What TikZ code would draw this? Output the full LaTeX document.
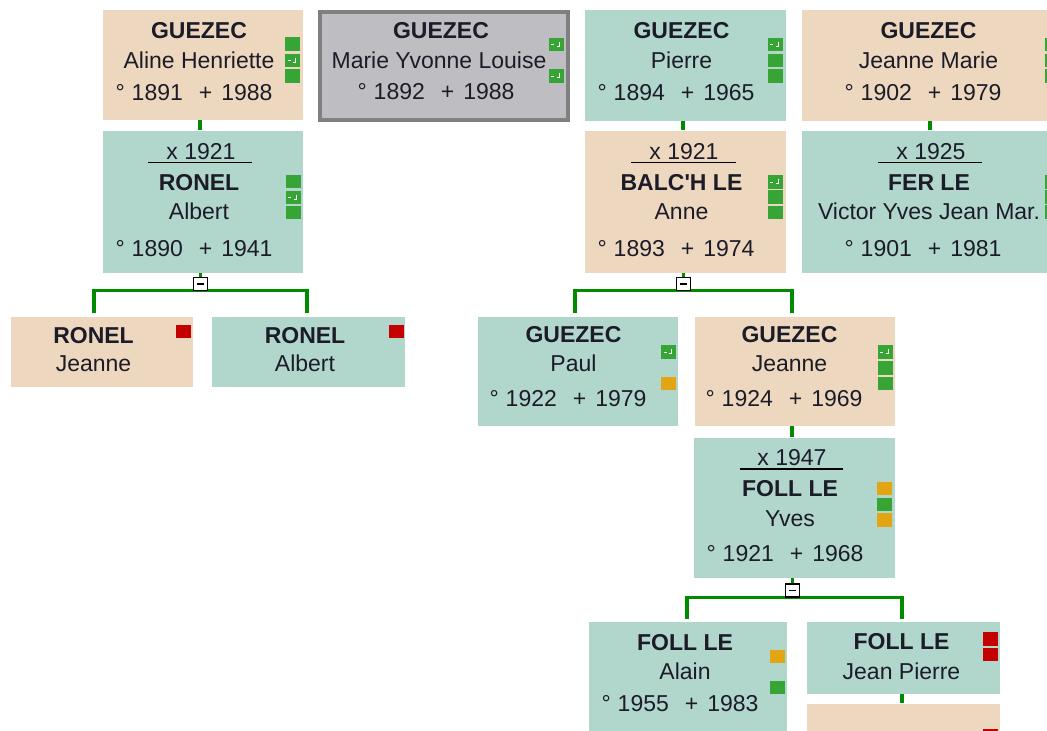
\documentclass[tikz,border=0pt]{standalone}
\usepackage{fontspec}
\setmainfont{Liberation Sans}[Ligatures=TeXOff]
\usetikzlibrary{calc}
\definecolor{cpeach}{HTML}{EDD7BF}
\definecolor{cteal}{HTML}{B1D6CC}
\definecolor{cgray}{HTML}{BEBEC2}
\definecolor{cgrayb}{HTML}{808080}
\definecolor{cline}{HTML}{008A00}
\definecolor{mgreen}{HTML}{36A536}
\definecolor{morange}{HTML}{E2A514}
\definecolor{mred}{HTML}{C40000}
\definecolor{ink}{HTML}{1C1C28}
\tikzset{
  card/.style={draw=white, line width=0.8pt, inner sep=0pt, outer sep=0pt, anchor=north west},
  txt/.style={anchor=base, inner sep=0pt, text=ink, font=\fontsize{23}{27}\selectfont},
  btxt/.style={txt, font=\fontsize{23}{27}\selectfont\bfseries},
  mk/.style={draw=none, inner sep=0pt, minimum width=15pt, minimum height=13.5pt},
  ckd/.style={path picture={\draw[white,line width=1pt]
      ([xshift=-5pt]path picture bounding box.center) -- ++(3pt,0pt)
      ([xshift=3pt,yshift=3pt]path picture bounding box.center) -- ++(0pt,-4.5pt) -- ++(-2.5pt,0pt);}},
  mnus/.style={draw=black, line width=1.5pt, fill=white, inner sep=0pt, minimum width=14pt, minimum height=13pt,
      path picture={\draw[black,line width=1.8pt]
      ([xshift=-3.5pt]path picture bounding box.center) -- ([xshift=3.5pt]path picture bounding box.center);}},
  conn/.style={draw=cline, line width=3.2pt},
  rl/.style={draw=black, line width=1.9pt}
}
\newcommand\pcard[6]{\node[card,fill=#6,minimum width={(#4-#2)*1pt},minimum height={(#5-#3)*1pt}] (#1) at (#2,#3) {};}
\newcommand\ptxt[4]{\node[txt] (#1) at (#2,#3) {#4};}
\newcommand\pbtxt[4]{\node[btxt] (#1) at (#2,#3) {#4};}
\newcommand\pmk[4]{\node[mk,fill=#4] (#1) at (#2,#3) {};}
\newcommand\pmkc[3]{\node[mk,fill=mgreen,ckd] (#1) at (#2,#3) {};}
\newcommand\pdates[2]{°\hspace{7pt}#1\hspace{16pt}+\hspace{9pt}#2}
\begin{document}
\begin{tikzpicture}[x=1pt,y=-1pt]
\useasboundingbox (0,0) rectangle (1047,731);
\clip (0,0) rectangle (1047,731);
\fill[white] (0,0) rectangle (1047,731);

% cards
\pcard{aline}{102}{9}{303}{120}{cpeach}
\node[draw=cgrayb, line width=4pt, fill=cgray, inner sep=0pt, anchor=north west,
      minimum width=248pt, minimum height=108pt] (marie) at (318,10) {};
\pcard{pierre}{584}{9}{786}{121}{cteal}
\pcard{jmarie}{801}{9}{1063}{121}{cpeach}
\pcard{ronelA}{102}{130}{303}{273}{cteal}
\pcard{balch}{584}{130}{786}{273}{cpeach}
\pcard{fer}{801}{130}{1063}{273}{cteal}
\pcard{rJeanne}{10}{316}{193}{387}{cpeach}
\pcard{rAlbert}{211}{316}{405}{387}{cteal}
\pcard{paul}{477}{316}{678}{426}{cteal}
\pcard{jeanne}{694}{316}{895}{426}{cpeach}
\pcard{yves}{693}{437}{895}{578}{cteal}
\pcard{alain}{588}{621}{787}{745}{cteal}
\pcard{jpierre}{806}{621}{1000}{694}{cteal}
\pcard{lastb}{806}{703}{1000}{745}{cpeach}

% connector x positions
\coordinate (sA) at (200,0);
\coordinate (sP) at (683,0);
\coordinate (sJ) at (930,0);
\coordinate (sY) at (792,0);
\coordinate (sL) at (902,0);
\coordinate (dA1) at (94,0);
\coordinate (dA2) at (307,0);
\coordinate (dB1) at (575,0);
\coordinate (dB2) at (792,0);
\coordinate (dC1) at (687,0);
\coordinate (dC2) at (902,0);

% spouse stubs
\draw[conn] (aline.south -| sA) -- (ronelA.north -| sA);
\draw[conn] (pierre.south -| sP) -- (balch.north -| sP);
\draw[conn] (jmarie.south -| sJ) -- (fer.north -| sJ);
\draw[conn] (jeanne.south -| sY) -- (yves.north -| sY);
\draw[conn] (jpierre.south -| sL) -- (lastb.north -| sL);

% family trees
\coordinate (jA) at (200.5,290.5);
\coordinate (jB) at (683.5,290.5);
\coordinate (jC) at (792.5,597.5);
\draw[conn] (ronelA.south -| jA) -- (jA);
\draw[conn] ([yshift=3pt]rJeanne.north -| dA1) |- (jA) -| ([yshift=3pt]rAlbert.north -| dA2);
\node[mnus] (mA) at (200.5,284) {};

\draw[conn] (balch.south -| jB) -- (jB);
\draw[conn] ([yshift=3pt]paul.north -| dB1) |- (jB) -| ([yshift=3pt]jeanne.north -| dB2);
\node[mnus] (mB) at (683.5,284) {};

\draw[conn] (yves.south -| jC) -- (jC);
\draw[conn] ([yshift=2pt]alain.north -| dC1) |- (jC) -| ([yshift=2pt]jpierre.north -| dC2);
\node[mnus] (mC) at (792.5,590.5) {};

% markers
\pmk{alM1}{292.5}{44}{mgreen}
\pmkc{alM2}{292.5}{60.5}
\pmk{alM3}{292.5}{76}{mgreen}
\pmkc{maM1}{556}{44.5}
\pmkc{maM2}{556}{76}
\pmkc{piM1}{775}{44.5}
\pmk{piM2}{775}{60.5}{mgreen}
\pmk{piM3}{775}{76}{mgreen}
\pmk{jmM1}{1052}{44.5}{mgreen}
\pmk{jmM2}{1052}{60.5}{mgreen}
\pmk{jmM3}{1052}{76}{mgreen}
\pmk{roM1}{293}{181.5}{mgreen}
\pmkc{roM2}{293}{197.5}
\pmk{roM3}{293}{212.5}{mgreen}
\pmkc{baM1}{775}{182}
\pmk{baM2}{775}{197}{mgreen}
\pmk{baM3}{775}{212.5}{mgreen}
\pmk{feM1}{1052}{182}{mgreen}
\pmk{feM2}{1052}{197}{mgreen}
\pmk{feM3}{1052}{212}{mgreen}
\pmk{rjM1}{183.5}{331.5}{mred}
\pmk{raM1}{396}{331.5}{mred}
\pmkc{paM1}{668.5}{352}
\pmk{paM3}{668.5}{383.5}{morange}
\pmkc{jeM1}{885}{352}
\pmk{jeM2}{885}{368}{mgreen}
\pmk{jeM3}{885}{383.5}{mgreen}
\pmk{yvM1}{884.5}{488.5}{morange}
\pmk{yvM2}{884.5}{504.5}{mgreen}
\pmk{yvM3}{884.5}{520}{morange}
\pmk{aaM1}{777}{656.5}{morange}
\pmk{aaM3}{777}{687.5}{mgreen}
\pmk{jpM1}{990}{639}{mred}
\pmk{jpM2}{990}{654.5}{mred}
\pmk{lbM1}{990}{736}{mred}

% texts: Aline
\pbtxt{alT1}{199}{38}{GUEZEC}
\ptxt{alT2}{199}{68}{Aline Henriette}
\ptxt{alT3}{194}{100}{\pdates{1891}{1988}}
% Marie
\pbtxt{maT1}{441}{38.3}{GUEZEC}
\ptxt{maT2}{439}{68.3}{Marie Yvonne Louise}
\ptxt{maT3}{436}{99}{\pdates{1892}{1988}}
% Pierre
\pbtxt{piT1}{681.5}{38.3}{GUEZEC}
\ptxt{piT2}{681.5}{68.3}{Pierre}
\ptxt{piT3}{676}{100.5}{\pdates{1894}{1965}}
% Jeanne Marie
\pbtxt{jmT1}{928.5}{38.3}{GUEZEC}
\ptxt{jmT2}{928.5}{68.3}{Jeanne Marie}
\ptxt{jmT3}{923}{100}{\pdates{1902}{1979}}
% Ronel Albert (spouse)
\ptxt{roT0}{201}{159}{x 1921}
\draw[rl] (148,162.5) -- (252,162.5);
\pbtxt{roT1}{199}{190}{RONEL}
\ptxt{roT2}{199}{219}{Albert}
\ptxt{roT3}{194}{256}{\pdates{1890}{1941}}
% Balch
\ptxt{baT0}{684}{159}{x 1921}
\draw[rl] (631,162.5) -- (736,162.5);
\pbtxt{baT1}{681.5}{190}{BALC'H LE}
\ptxt{baT2}{681.5}{219}{Anne}
\ptxt{baT3}{676}{256}{\pdates{1893}{1974}}
% Fer
\ptxt{feT0}{931}{159}{x 1925}
\draw[rl] (878,162.5) -- (982,162.5);
\pbtxt{feT1}{929}{190}{FER LE}
\ptxt{feT2}{929}{219}{Victor Yves Jean Mar.}
\ptxt{feT3}{923}{256}{\pdates{1901}{1981}}
% Ronel children
\pbtxt{rjT1}{93.5}{343.3}{RONEL}
\ptxt{rjT2}{93.5}{371.7}{Jeanne}
\pbtxt{raT1}{305}{343.3}{RONEL}
\ptxt{raT2}{305}{371.7}{Albert}
% Paul
\pbtxt{paT1}{573.5}{342.7}{GUEZEC}
\ptxt{paT2}{573.5}{371.7}{Paul}
\ptxt{paT3}{568}{406}{\pdates{1922}{1979}}
% Jeanne
\pbtxt{jeT1}{789.5}{342.7}{GUEZEC}
\ptxt{jeT2}{789.5}{371.7}{Jeanne}
\ptxt{jeT3}{784}{406}{\pdates{1924}{1969}}
% Yves
\ptxt{yvT0}{792}{465}{x 1947}
\draw[rl] (740,469.3) -- (843,469.3);
\pbtxt{yvT1}{790}{496.7}{FOLL LE}
\ptxt{yvT2}{790}{526.7}{Yves}
\ptxt{yvT3}{785}{561.7}{\pdates{1921}{1968}}
% Alain
\pbtxt{aaT1}{685}{650}{FOLL LE}
\ptxt{aaT2}{685}{679.3}{Alain}
\ptxt{aaT3}{680}{711.7}{\pdates{1955}{1983}}
% Jean Pierre
\pbtxt{jpT1}{901.5}{649.3}{FOLL LE}
\ptxt{jpT2}{901.5}{679.3}{Jean Pierre}
\end{tikzpicture}
\end{document}
